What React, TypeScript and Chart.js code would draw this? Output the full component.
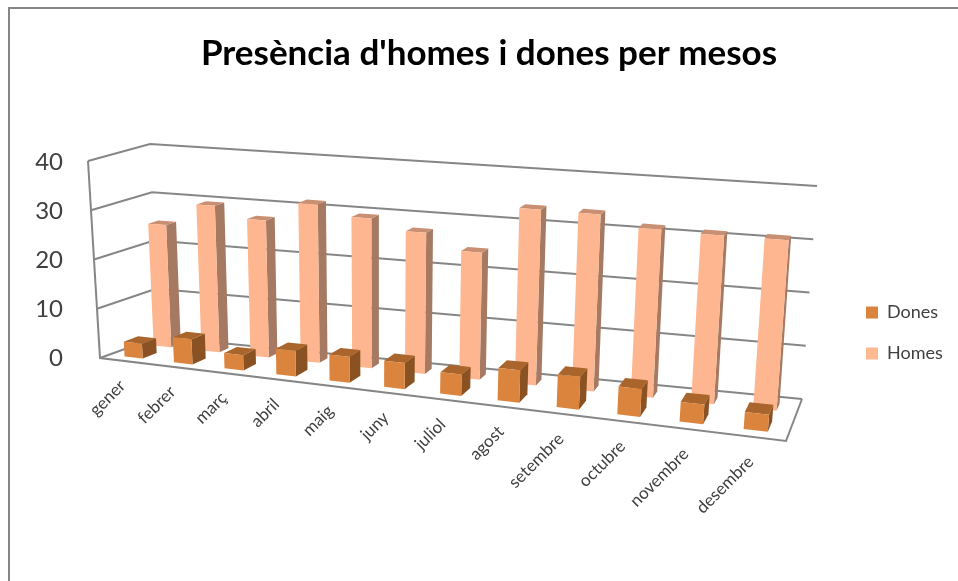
import React, { useEffect, useRef } from "react";
import { Chart, registerables } from "chart.js";

Chart.register(...registerables);

const months = ["gener", "febrer", "març", "abril", "maig", "juny", "juliol", "agost", "setembre", "octubre", "novembre", "desembre"];
const dones = [3, 5, 3, 5, 5, 5, 4, 6, 6, 5, 3.5, 3];
const homes = [25, 29.7, 27.5, 31.5, 29.5, 27.5, 24.5, 33.6, 33.5, 31.5, 31.2, 31.2];
const yTicks = [0, 10, 20, 30, 40];

const GRID = "#868686";
const TEXT = "#404040";
const FONT = "Lato, 'Open Sans', sans-serif";

// corners of the projected plot box: [category end, depth, value]
const C = {
  fb0: [100, 358], fb1: [786, 441], bb0: [158, 337], bb1: [802, 399],
  ft0: [88, 161], ft1: [805, 209], bt0: [150, 144], bt1: [817, 186],
};
const K = 1.17;
const lerp = (a: number, b: number, t: number) => a + (b - a) * t;
function project(u: number, v: number, w: number): [number, number] {
  const t = u / (u + K * (1 - u));
  const out: number[] = [];
  for (const i of [0, 1]) {
    const f = lerp(lerp(C.fb0[i], C.fb1[i], t), lerp(C.ft0[i], C.ft1[i], t), w);
    const b = lerp(lerp(C.bb0[i], C.bb1[i], t), lerp(C.bt0[i], C.bt1[i], t), w);
    out.push(lerp(f, b, v));
  }
  return out as [number, number];
}

const depthRows = [
  { from: 0.16, to: 0.41, front: "#DB843D", top: "#A9652B", side: "#8A5222" },
  { from: 0.67, to: 0.84, front: "#FDB68F", top: "#C98F72", side: "#A67A62" },
];

function poly(ctx: CanvasRenderingContext2D, pts: [number, number][], fill: string) {
  ctx.beginPath();
  pts.forEach((p, i) => (i ? ctx.lineTo(p[0], p[1]) : ctx.moveTo(p[0], p[1])));
  ctx.closePath();
  ctx.fillStyle = fill;
  ctx.fill();
}

const scene = {
  id: "scene",
  afterLayout(chart: any) {
    const l = chart.legend;
    l.left = 843;
    l.right = 958;
    l.top = 233;
    l.bottom = 433;
  },
  beforeDraw(chart: any) {
    const { ctx } = chart;
    ctx.save();
    ctx.strokeStyle = GRID;
    ctx.lineWidth = 2;
    ctx.beginPath();
    ctx.moveTo(9, 581);
    ctx.lineTo(9, 8);
    ctx.lineTo(958, 8);
    ctx.stroke();
    ctx.restore();
  },
  beforeDatasetsDraw(chart: any) {
    const { ctx, chartArea: a, scales } = chart;
    const norm = (px: number) => (px - a.left) / (a.right - a.left);
    const val = (py: number) => (a.bottom - py) / (a.bottom - a.top);
    ctx.save();

    // walls and floor
    ctx.strokeStyle = GRID;
    ctx.lineWidth = 2;
    const line = (pts: [number, number][]) => {
      ctx.beginPath();
      pts.forEach((p, i) => (i ? ctx.lineTo(p[0], p[1]) : ctx.moveTo(p[0], p[1])));
      ctx.stroke();
    };
    scales.y.ticks.forEach((tk: any) => {
      const w = val(scales.y.getPixelForValue(tk.value));
      line([project(0, 0, w), project(0, 1, w), project(1, 1, w)]);
    });
    line([project(0, 0, 1), project(0, 0, 0), project(1, 0, 0), project(1, 1, 0)]);

    // bars, back row first
    [1, 0].forEach((di) => {
      const row = depthRows[di];
      chart.getDatasetMeta(di).data.forEach((el: any) => {
        const u0 = norm(el.x - el.width / 2);
        const u1 = norm(el.x + el.width / 2);
        const h = val(el.y);
        const { from: v0, to: v1 } = row;
        poly(ctx, [project(u1, v0, 0), project(u1, v1, 0), project(u1, v1, h), project(u1, v0, h)], row.side);
        poly(ctx, [project(u0, v0, h), project(u1, v0, h), project(u1, v1, h), project(u0, v1, h)], row.top);
        poly(ctx, [project(u0, v0, 0), project(u1, v0, 0), project(u1, v0, h), project(u0, v0, h)], row.front);
      });
    });

    // category labels
    ctx.fillStyle = TEXT;
    ctx.font = `17px ${FONT}`;
    ctx.textAlign = "right";
    ctx.textBaseline = "middle";
    scales.x.ticks.forEach((tk: any, i: number) => {
      const u = norm(scales.x.getPixelForTick(i));
      const p = project(u, 0, 0);
      ctx.save();
      ctx.translate(p[0] - 2, p[1] + 22);
      ctx.rotate((-45 * Math.PI) / 180);
      ctx.fillText(scales.x.getLabelForValue(tk.value), 0, 0);
      ctx.restore();
    });
    ctx.restore();
    return false;
  },
};

export default function App() {
  const ref = useRef<HTMLCanvasElement>(null);
  useEffect(() => {
    document.body.style.margin = "0";
    const chart = new Chart(ref.current as HTMLCanvasElement, {
      type: "bar",
      data: {
        labels: months,
        datasets: [
          { label: "Dones", data: dones, backgroundColor: "#DB843D", grouped: false, barPercentage: 0.37, categoryPercentage: 1 },
          { label: "Homes", data: homes, backgroundColor: "#FFB98F", grouped: false, barPercentage: 0.37, categoryPercentage: 1 },
        ],
      } as any,
      options: {
        responsive: false,
        animation: false,
        layout: { padding: { left: 20, right: 0, top: 0, bottom: 223 } },
        plugins: {
          title: {
            display: true,
            text: "Presència d'homes i dones per mesos",
            color: "#000000",
            font: { family: FONT, size: 35, weight: "bold" },
            padding: { top: 33, bottom: 87 },
          },
          legend: {
            position: "right",
            labels: {
              boxWidth: 12,
              boxHeight: 12,
              padding: 23,
              color: TEXT,
              font: { family: FONT, size: 18 },
            },
          },
          tooltip: { enabled: false },
        },
        scales: {
          x: { display: false, grid: { display: false } },
          y: {
            min: 0,
            max: 40,
            afterBuildTicks: (s: any) => {
              s.ticks = yTicks.map((value) => ({ value }));
            },
            afterFit: (s: any) => {
              s.width = 68;
            },
            grid: { display: false },
            border: { display: false },
            ticks: { padding: 17, color: TEXT, font: { family: FONT, size: 24 } },
          },
        },
      } as any,
      plugins: [scene],
    });
    return () => chart.destroy();
  }, []);
  return (
    <div style={{ width: 958, height: 581 }}>
      <canvas ref={ref} width={958} height={581} style={{ display: "block" }} />
    </div>
  );
}
